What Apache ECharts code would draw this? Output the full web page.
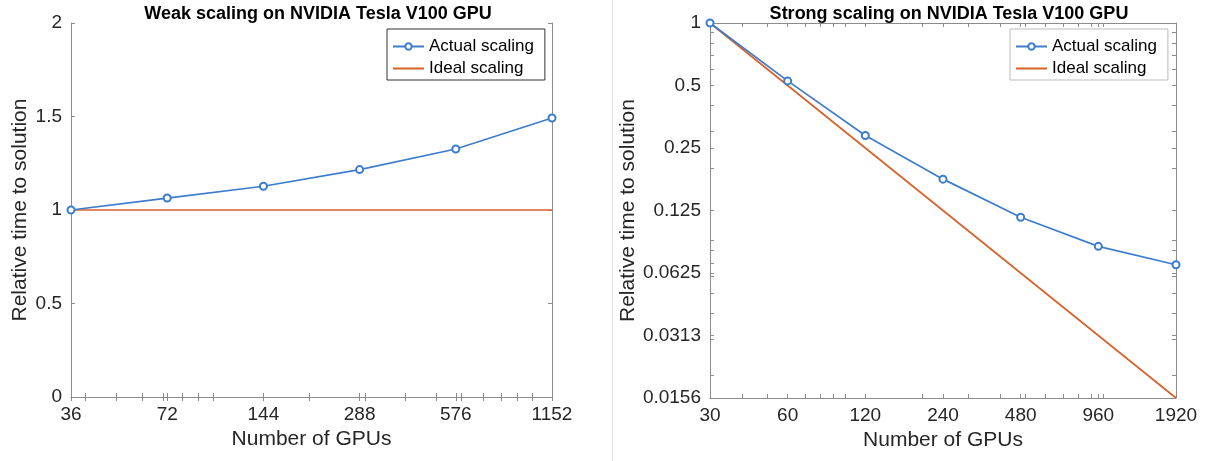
<!DOCTYPE html>
<html>
<head>
<meta charset="utf-8">
<script src="https://cdn.jsdelivr.net/npm/echarts@6/dist/echarts.min.js"></script>
<style>
html,body{margin:0;padding:0;background:#fff;}
#chart{width:1208px;height:461px;}
</style>
</head>
<body>
<div id="chart"></div>
<script>
// ---- data ----
const weakGPUs = [36, 72, 144, 288, 576, 1152];
const weakActual = [1, 1.064, 1.127, 1.216, 1.326, 1.492];
const weakIdeal = [1, 1, 1, 1, 1, 1];
const weakYTicks = [0, 0.5, 1, 1.5, 2];
const weakMinorX = [40, 50, 60, 70, 80, 90, 100, 200, 300, 400, 500, 600, 700, 800, 900, 1000];

const strongGPUs = [30, 60, 120, 240, 480, 960, 1920];
const strongActual = [1, 0.526, 0.287, 0.177, 0.116, 0.084, 0.0685];
const strongIdeal = [1, 0.5, 0.25, 0.125, 0.0625, 0.03125, 0.015625];
const strongYTicks = [1, 0.5, 0.25, 0.125, 0.0625, 0.03125, 0.015625];
const strongMinorX = [40, 50, 60, 70, 80, 90, 100, 200, 300, 400, 500, 600, 700, 800, 900, 1000];
const strongMinorY = [0.02, 0.03, 0.04, 0.05, 0.06, 0.07, 0.08, 0.09, 0.2, 0.3, 0.4, 0.5, 0.6, 0.7, 0.8, 0.9];

const titles = ['Weak scaling on NVIDIA Tesla V100 GPU', 'Strong scaling on NVIDIA Tesla V100 GPU'];
const seriesNames = ['Actual scaling', 'Ideal scaling'];
const xName = 'Number of GPUs';
const yName = 'Relative time to solution';

// ---- style ----
const BLUE = '#3d7dcc';
const ORANGE = '#d9612a';
const AXIS = '#8c8c8c';
const TXT = '#262626';
const FONT = 'Liberation Sans, Arial, Helvetica, sans-serif';

const chart = echarts.init(document.getElementById('chart'), null, {renderer: 'canvas'});

const pairs = (xs, ys) => xs.map((x, i) => [x, ys[i]]);
const fmtNum = v => String(parseFloat(Number(v).toFixed(4)));

function xAxes(gridIndex, data, minor) {
  const ticks = data.concat(minor).sort((a, b) => a - b);
  const common = {
    type: 'log', logBase: 2, gridIndex,
    min: data[0], max: data[data.length - 1],
    axisLine: {show: true, lineStyle: {color: AXIS, width: 1}},
    splitLine: {show: false}, minorTick: {show: false}
  };
  return [
    Object.assign({}, common, {
      position: 'bottom',
      name: xName, nameLocation: 'middle', nameGap: 32,
      nameTextStyle: {fontSize: 21, color: TXT, fontFamily: FONT},
      axisTick: {show: true, inside: true, length: 4, lineStyle: {color: AXIS}, customValues: ticks},
      axisLabel: {show: true, margin: 8, fontSize: 19, color: TXT, fontFamily: FONT,
        customValues: data, formatter: v => fmtNum(v)}
    }),
    Object.assign({}, common, {
      position: 'top',
      axisTick: {show: true, inside: true, length: 4, lineStyle: {color: AXIS}, customValues: ticks},
      axisLabel: {show: false}
    })
  ];
}

function legendAt(left, border) {
  return {
    left, top: 29, orient: 'vertical',
    data: [
      {name: seriesNames[0]},
      {name: seriesNames[1], itemStyle: {opacity: 0}}
    ],
    itemWidth: 31, itemHeight: 8, itemGap: 5,
    padding: [9, 11, 3, 5], borderColor: border, borderWidth: 1, backgroundColor: '#fff',
    textStyle: {fontSize: 17, color: '#000', fontFamily: FONT}
  };
}

const option = {
  animation: false,
  backgroundColor: '#fff',
  textStyle: {fontFamily: FONT},
  title: [
    {text: titles[0], left: 313, top: 0, textAlign: 'center',
      textStyle: {fontSize: 18, fontWeight: 'bold', color: '#000', fontFamily: FONT}},
    {text: titles[1], left: 944, top: 0, textAlign: 'center',
      textStyle: {fontSize: 18, fontWeight: 'bold', color: '#000', fontFamily: FONT}}
  ],
  legend: [legendAt(387, '#333'), legendAt(1010, '#bbb')],
  grid: [
    {left: 71, top: 23, width: 481, height: 374, show: false, containLabel: false},
    {left: 710, top: 23, width: 466, height: 375, show: false, containLabel: false}
  ],
  xAxis: [].concat(xAxes(0, weakGPUs, weakMinorX), xAxes(1, strongGPUs, strongMinorX)),
  yAxis: [
    {type: 'value', gridIndex: 0, position: 'left', min: 0, max: 2, interval: 0.5,
      name: yName, nameLocation: 'middle', nameGap: 40,
      nameTextStyle: {fontSize: 21, color: TXT, fontFamily: FONT},
      axisLine: {show: true, lineStyle: {color: AXIS}},
      axisTick: {show: true, inside: true, length: 4, lineStyle: {color: AXIS}},
      axisLabel: {margin: 9, fontSize: 19, color: TXT, fontFamily: FONT,
        customValues: weakYTicks, formatter: v => fmtNum(v)},
      splitLine: {show: false}},
    {type: 'value', gridIndex: 0, position: 'right', min: 0, max: 2, interval: 0.5,
      axisLine: {show: true, lineStyle: {color: AXIS}},
      axisTick: {show: true, inside: true, length: 4, lineStyle: {color: AXIS}},
      axisLabel: {show: false}, splitLine: {show: false}},
    {type: 'log', logBase: 2, gridIndex: 1, position: 'left',
      min: strongYTicks[strongYTicks.length - 1], max: strongYTicks[0],
      name: yName, nameLocation: 'middle', nameGap: 70,
      nameTextStyle: {fontSize: 21, color: TXT, fontFamily: FONT},
      axisLine: {show: true, lineStyle: {color: AXIS}},
      axisTick: {show: true, inside: true, length: 4, lineStyle: {color: AXIS},
        customValues: strongYTicks.concat(strongMinorY)},
      axisLabel: {margin: 9, fontSize: 19, color: TXT, fontFamily: FONT,
        customValues: strongYTicks, formatter: v => fmtNum(v)},
      splitLine: {show: false}, minorTick: {show: false}},
    {type: 'log', logBase: 2, gridIndex: 1, position: 'right',
      min: strongYTicks[strongYTicks.length - 1], max: strongYTicks[0],
      axisLine: {show: true, lineStyle: {color: AXIS}},
      axisTick: {show: true, inside: true, length: 4, lineStyle: {color: AXIS},
        customValues: strongYTicks.concat(strongMinorY)},
      axisLabel: {show: false}, splitLine: {show: false}, minorTick: {show: false}}
  ],
  series: [
    {name: seriesNames[0], type: 'line', xAxisIndex: 0, yAxisIndex: 0,
      data: pairs(weakGPUs, weakActual), symbol: 'emptyCircle', symbolSize: 7,
      lineStyle: {color: BLUE, width: 1.7}, itemStyle: {color: BLUE, borderWidth: 1.5}, z: 3},
    {name: seriesNames[1], type: 'line', xAxisIndex: 0, yAxisIndex: 0,
      data: pairs(weakGPUs, weakIdeal), symbol: 'none',
      lineStyle: {color: ORANGE, width: 1.7}, itemStyle: {color: ORANGE}, z: 2},
    {name: seriesNames[0], type: 'line', xAxisIndex: 2, yAxisIndex: 2,
      data: pairs(strongGPUs, strongActual), symbol: 'emptyCircle', symbolSize: 7,
      lineStyle: {color: BLUE, width: 1.7}, itemStyle: {color: BLUE, borderWidth: 1.5}, z: 3},
    {name: seriesNames[1], type: 'line', xAxisIndex: 2, yAxisIndex: 2,
      data: pairs(strongGPUs, strongIdeal), symbol: 'none',
      lineStyle: {color: ORANGE, width: 1.7}, itemStyle: {color: ORANGE}, z: 2}
  ],
  graphic: [
    {type: 'line', shape: {x1: 612.5, y1: 0, x2: 612.5, y2: 461}, style: {stroke: '#e0e0e0', lineWidth: 1}}
  ]
};
chart.setOption(option);
</script>
</body>
</html>
